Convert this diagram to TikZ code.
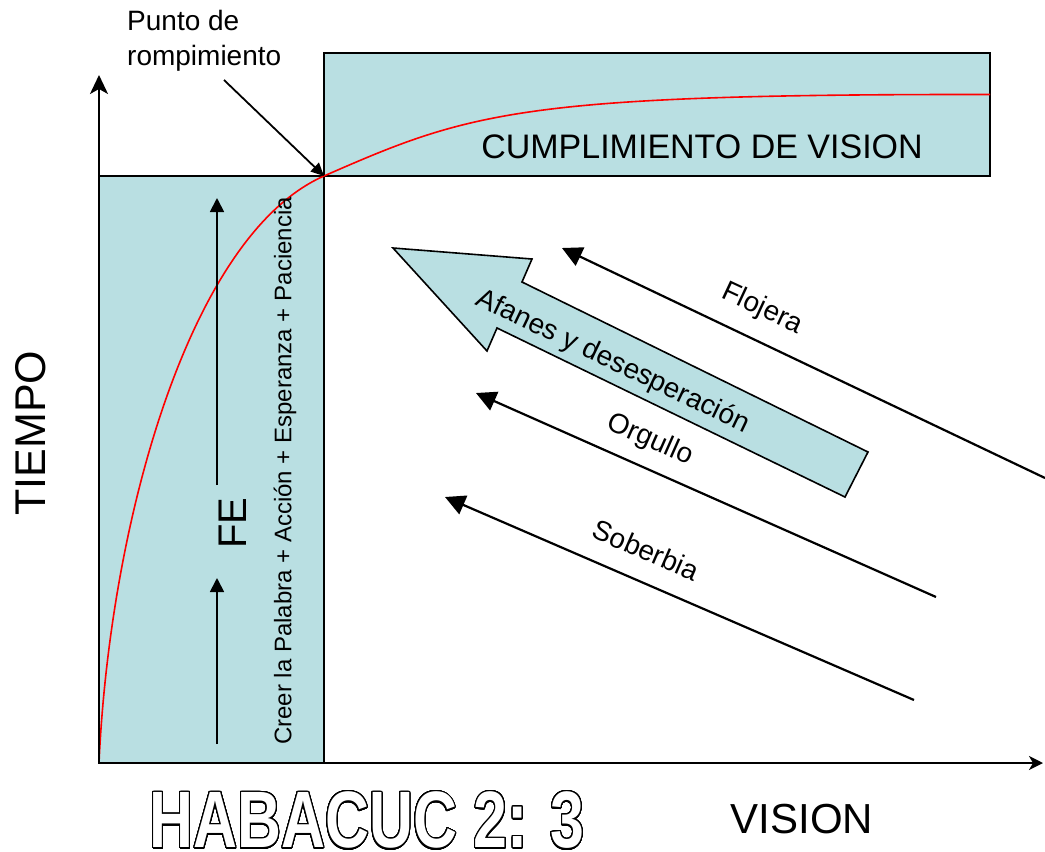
\documentclass[tikz,border=0pt]{standalone}
\usepackage{fontspec}
\setmainfont{Liberation Sans}
\usepackage{contour}
\usetikzlibrary{arrows.meta}
\definecolor{tealfill}{RGB}{185,223,226}
\contourlength{1.4pt}
\contournumber{40}
\begin{document}
\begin{tikzpicture}[x=1pt,y=-1pt,
  box/.style={draw=black, line width=1.8pt, fill=tealfill, inner sep=0pt, outer sep=0pt},
  axisline/.style={line width=2pt, draw=black},
  slant/.style={line width=2.2pt, {Triangle[length=20pt,width=20pt]}-},
  smallarrow/.style={line width=1.8pt, -{Triangle[length=14pt,width=14pt]}},
  lbl/.style={font=\fontsize{28}{35}\selectfont, inner sep=0pt}]
\useasboundingbox (0,0) rectangle (1045,852);
\fill[white] (0,0) rectangle (1045,852);

% boxes
\node[box, minimum width=225pt, minimum height=587pt, anchor=north west] (faithbox) at (99,176) {};
\node[box, minimum width=666pt, minimum height=123pt, anchor=north west] (visionbox) at (324,53) {};

% curve
\coordinate (O) at (99,763);
\coordinate (bp) at (324,176);
\coordinate (cend) at (990,94.5);
\draw[red, line width=1.6pt] (O) .. controls (110,520) and (190,235) .. (bp)
  .. controls (470,112) and (520,94) .. (cend);

% axes
\coordinate (ytip) at (99,75);
\coordinate (xtip) at (1043,763);
\draw[axisline, -{Stealth[length=19pt,width=18pt,inset=5pt]}] (O) -- (ytip);
\draw[axisline, -{Stealth[length=14pt,width=14pt,inset=4pt]}] (O) -- (xtip);

% breaking point pointer
\node[lbl, align=left, anchor=north west] (punto) at (127,10) {Punto de\\rompimiento};
\coordinate (pstart) at (224,80);
\draw[line width=1.8pt, -{Triangle[length=13pt,width=12pt]}] (pstart) -- (bp);

% FE arrows
\coordinate (fea) at (217,744);
\coordinate (feb) at (217,578);
\coordinate (fec) at (217,485);
\coordinate (fed) at (217,198);
\draw[smallarrow] (fea) -- (feb);
\draw[smallarrow] (fec) -- (fed);
\node[inner sep=0pt, rotate=90, font=\fontsize{40}{40}\selectfont] (fe) at (233,523) {FE};
\node[inner sep=0pt, rotate=90, font=\fontsize{24}{24}\selectfont] (creer) at (285,471)
  {Creer la Palabra + Acción + Esperanza + Paciencia};

% vision text
\node[inner sep=0pt, font=\fontsize{34}{34}\selectfont] (cumpl) at (702,147) {CUMPLIMIENTO DE VISION};

% big arrow
\draw[line width=1.6pt, fill=tealfill, line join=miter]
  (393,248) -- (532,259) -- (522,282) -- (868,452) -- (845,497) -- (497,328) -- (487,351) -- cycle;
\node[lbl, rotate=-25.5] (afanes) at (613,362) {Afanes y desesperación};

% slanted arrows
\coordinate (flt) at (562,248);
\coordinate (fle) at (1045,478);
\coordinate (ort) at (476,393);
\coordinate (ore) at (936,597);
\coordinate (sot) at (445,497);
\coordinate (soe) at (914,700);
\draw[slant] (flt) -- (fle);
\draw[slant] (ort) -- (ore);
\draw[slant] (sot) -- (soe);
\node[lbl, rotate=-25] (flojera) at (762,309) {Flojera};
\node[lbl, rotate=-24] (orgullo) at (650,440) {Orgullo};
\node[lbl, rotate=-23.5] (soberbia) at (646,550) {Soberbia};

% axis labels
\node[inner sep=0pt, rotate=90, font=\fontsize{43}{43}\selectfont] (tiempo) at (31,433) {TIEMPO};
\node[inner sep=0pt, font=\fontsize{42}{42}\selectfont] (vision) at (802,819) {VISION};

% title
\node[inner sep=0pt, xscale=0.76, text=white, font=\fontsize{80}{80}\selectfont\bfseries] (hab) at (367,821)
  {\contour{black}{HABACUC 2: 3}};
\end{tikzpicture}
\end{document}
